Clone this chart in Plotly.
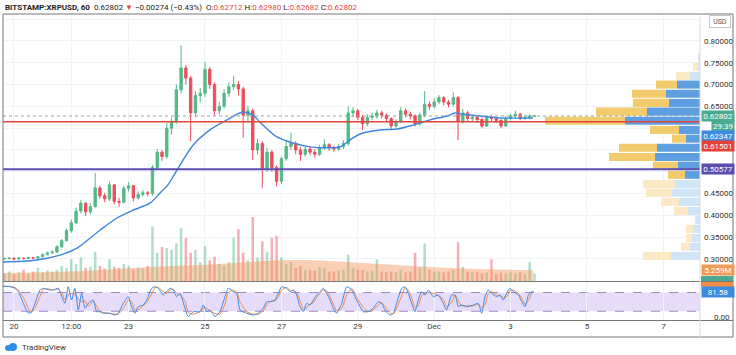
import plotly.graph_objects as go

# ---------------- data ----------------
candle_hours = list(range(-6, 330, 3))  # hours from 20 Nov 00:00, 3h candles

open_ = [0.300,0.301,0.302,0.300,0.302,0.301,0.303,0.302,0.305,0.310,
         0.314,0.316,0.328,0.342,0.365,0.383,0.410,0.428,0.408,0.420,
         0.463,0.445,0.438,0.470,0.432,0.430,0.462,0.468,0.440,0.448,
         0.452,0.450,0.510,0.545,0.535,0.600,0.615,0.688,0.738,0.715,
         0.635,0.675,0.680,0.735,0.700,0.640,0.650,0.680,0.695,0.700,
         0.690,0.630,0.640,0.550,0.565,0.508,0.545,0.510,0.478,0.530,
         0.558,0.565,0.550,0.540,0.552,0.545,0.540,0.555,0.562,0.555,
         0.552,0.558,0.565,0.635,0.640,0.625,0.610,0.625,0.628,0.635,
         0.630,0.622,0.605,0.615,0.640,0.632,0.628,0.610,0.630,0.655,
         0.650,0.660,0.670,0.660,0.655,0.670,0.615,0.635,0.622,0.625,
         0.620,0.605,0.625,0.622,0.618,0.605,0.622,0.628,0.632,0.622,
         0.625,0.62712]
high = [0.303,0.304,0.303,0.304,0.303,0.305,0.304,0.307,0.313,0.317,
        0.320,0.332,0.346,0.370,0.390,0.418,0.436,0.430,0.428,0.497,
        0.468,0.452,0.478,0.472,0.440,0.468,0.476,0.470,0.455,0.458,
        0.456,0.516,0.552,0.550,0.612,0.625,0.700,0.790,0.745,0.720,
        0.685,0.692,0.752,0.740,0.705,0.660,0.690,0.705,0.720,0.708,
        0.695,0.652,0.645,0.575,0.570,0.555,0.550,0.515,0.535,0.570,
        0.590,0.570,0.556,0.560,0.558,0.552,0.562,0.575,0.566,0.560,
        0.564,0.572,0.650,0.648,0.645,0.630,0.632,0.635,0.642,0.640,
        0.634,0.625,0.620,0.648,0.645,0.638,0.632,0.636,0.685,0.662,
        0.668,0.676,0.674,0.665,0.682,0.674,0.645,0.640,0.632,0.630,
        0.624,0.630,0.630,0.626,0.620,0.628,0.633,0.640,0.635,0.630,
        0.632,0.62980]
low = [0.298,0.299,0.298,0.299,0.299,0.300,0.300,0.300,0.304,0.308,
       0.312,0.314,0.325,0.340,0.360,0.380,0.405,0.398,0.402,0.418,
       0.438,0.430,0.433,0.425,0.420,0.428,0.455,0.432,0.436,0.443,
       0.444,0.445,0.505,0.525,0.530,0.585,0.610,0.680,0.700,0.570,
       0.625,0.660,0.672,0.690,0.630,0.632,0.645,0.672,0.688,0.675,
       0.578,0.615,0.527,0.540,0.463,0.500,0.500,0.466,0.472,0.525,
       0.550,0.540,0.525,0.535,0.538,0.532,0.536,0.550,0.548,0.545,
       0.548,0.552,0.560,0.625,0.618,0.596,0.605,0.618,0.622,0.622,
       0.615,0.598,0.600,0.612,0.625,0.620,0.604,0.606,0.625,0.642,
       0.645,0.655,0.652,0.648,0.650,0.573,0.610,0.615,0.615,0.612,
       0.600,0.602,0.616,0.612,0.600,0.603,0.618,0.622,0.618,0.619,
       0.621,0.62682]
close = [0.301,0.302,0.300,0.302,0.301,0.303,0.302,0.305,0.310,0.314,
         0.316,0.328,0.342,0.365,0.383,0.410,0.428,0.408,0.420,0.463,
         0.445,0.438,0.470,0.432,0.430,0.462,0.468,0.440,0.448,0.452,
         0.450,0.510,0.545,0.535,0.600,0.615,0.688,0.738,0.715,0.635,
         0.675,0.680,0.735,0.700,0.640,0.650,0.680,0.695,0.700,0.690,
         0.630,0.640,0.550,0.565,0.508,0.545,0.510,0.478,0.530,0.558,
         0.565,0.550,0.540,0.552,0.545,0.540,0.555,0.562,0.555,0.552,
         0.558,0.565,0.635,0.640,0.625,0.610,0.625,0.628,0.635,0.630,
         0.622,0.605,0.615,0.640,0.632,0.628,0.610,0.630,0.655,0.650,
         0.660,0.670,0.660,0.655,0.670,0.615,0.635,0.622,0.625,0.620,
         0.605,0.625,0.622,0.618,0.605,0.622,0.628,0.632,0.622,0.625,
         0.628,0.62802]
volume_m = [3.6,4.5,3.2,4.1,5.4,3.6,4.5,6.3,4.1,5.0,4.5,
            5.4,7.2,6.3,10.4,8.1,11.3,6.3,6.8,14.0,7.2,
            5.9,10.4,6.8,6.3,8.1,7.2,5.4,6.3,5.9,7.2,
            26.1,13.5,16.2,15.8,14.9,18.0,25.2,20.7,13.5,14.9,
            9.0,16.7,9.9,11.7,8.1,7.2,9.0,20.7,24.8,13.5,
            9.9,30.6,11.3,18.9,14.0,20.7,21.6,11.3,8.1,9.0,
            6.3,7.2,5.4,5.4,5.0,6.8,6.3,4.5,4.5,5.0,
            5.4,12.6,6.3,5.4,5.4,4.5,5.0,10.4,4.5,4.1,
            4.5,4.1,5.4,4.1,4.5,13.5,6.3,18.0,5.4,4.5,
            4.5,4.1,4.5,5.4,18.5,6.8,4.5,4.1,4.5,3.6,
            4.1,10.4,3.6,4.1,3.6,4.1,3.6,4.1,3.2,9.0,3.6]

vol_ma_hours = [-7, 22.6, 54, 85.4, 116.9, 148.3, 173.4, 198.5, 230, 261.4, 292.8, 326]
vol_ma_m = [3.8, 4.3, 5.3, 6.7, 7.6, 9.1, 10.0, 9.6, 8.1, 6.7, 5.7, 5.26]

ma_hours = [-6.9,13.2,28.9,39.6,54,64.7,74.8,85.4,91.7,96.7,
            102.4,112.5,123.1,133.8,143.9,150.2,154.5,165.2,175.3,186,
            196.6,204.8,213,219.3,229.9,240.6,250.7,261.4,272,277.1,
            282.1,292.8,303.5,313.5,326]
ma_price = [0.293,0.297,0.309,0.325,0.366,0.394,0.412,0.428,0.451,0.470,
            0.504,0.561,0.596,0.619,0.637,0.630,0.614,0.580,0.566,0.557,
            0.555,0.557,0.578,0.589,0.596,0.598,0.607,0.619,0.628,0.635,
            0.632,0.628,0.624,0.623,0.62347]

rsi_hours = [-9,-2.5,0.6,2.7,5.9,9,11.1,13.2,16.3,18.4,
             22.6,24.7,27.8,30,32,34.1,36.2,38.3,40.4,42.5,
             44.6,46.7,49.8,51.9,54,56.1,60.3,63.5,65.5,68.7,
             71.8,73.9,76,78.1,81.2,83.4,86.5,88.6,90.7,93.8,
             95.9,98,100.1,102.2,104.3,107.4,109.5,112.6,116.9,118.9,
             121.1,123.1,126.3,129.4,132.6,134.6,137.8,139.9,142,146.2,
             150.4,153.5,156.6,158.8,
             160.8,164,166.1,168.2,171.3,173.4,175.5,177.6,179.7,181.8,
             183.9,186,188.1,190.2,192.3,194.3,196.4,198.5,200.6,202.7,
             205.9,209,212.2,214.2,216.3,219.5,222.6,225.7,228.9,231,
             233.1,236.2,238.3,240.4,243.6,245.6,247.7,249.9,251.9,254,
             256.1,258.2,260.3,263.4,266.6,269.7,271.8,275,277.1,279.2,
             281.3,284.4,288.6,291.7,293.8,295.9,298,300.1,303.3,305.3,
             307.4,309.5,311.6,313.7,316.9,319,321.1,323.2,325.3,326.4]
stoch_k = [100,98.7,93.4,82.7,45.4,13.4,18.7,45.4,88,93.4,
           88,88,93.4,66.7,45.4,98.7,56,93.4,24,77.4,
           29.4,45.4,56,18.7,18.7,13.4,13.4,8,13.4,45.4,
           66.7,34.7,13.4,34.7,40,56,93.4,98.7,93.4,72,
           82.7,93.4,88,66.7,77.4,29.4,2.7,18.7,18.7,40,
           18.7,24,2.7,18.7,66.7,93.4,82.7,77.4,24,13.4,
           8,13.4,29.4,50.7,
           50.7,56,77.4,98.7,93.4,82.7,88,72,34.7,18.7,
           45.4,40,56,72,82.7,93.4,77.4,56,29.4,13.4,
           45.4,98.7,88,66.7,45.4,18.7,18.7,29.4,50.7,45.4,
           24,8,13.4,45.4,93.4,98.7,77.4,45.4,18.7,56,
           82.7,72,88,66.7,72,45.4,24,72,72,34.7,
           40,34.7,40,45.4,13.4,66.7,88,77.4,66.7,72,
           56,77.4,93.4,82.7,72,50.7,34.7,72,82.7,81.58]
stoch_d = [99,99.4,96,88,64,29.4,16,32,66.7,90.7,
           90.7,88,90.7,80,56,72,77.4,74.7,58.7,50.7,
           53.4,37.4,50.7,37.4,18.7,16,13.4,10.7,10.7,29.4,
           56,50.7,24,24,37.4,48,74.7,96,96,82.7,
           77.4,88,90.7,77.4,72,53.4,16,10.7,18.7,29.4,
           29.4,21.4,13.4,10.7,42.7,80,88,80,50.7,18.7,
           10.7,10.7,21.4,40,
           50.7,53.4,66.7,88,96,88,85.4,80,53.4,26.7,
           32,42.7,48,64,77.4,88,85.4,66.7,42.7,21.4,
           29.4,72,93.4,77.4,56,32,18.7,24,40,48,
           34.7,16,10.7,29.4,69.4,96,88,61.4,32,37.4,
           69.4,77.4,80,77.4,69.4,58.7,34.7,48,72,53.4,
           37.4,37.4,37.4,42.7,29.4,40,77.4,82.7,72,69.4,
           64,66.7,85.4,88,77.4,61.4,42.7,53.4,77.4,82.2]

# volume profile (visible range)
vp_price = [0.307,0.328,0.348,0.369,0.390,0.410,0.431,0.452,0.472,0.493,0.514,0.534,
            0.555,0.576,0.596,0.617,0.638,0.658,0.679,0.700,0.720,0.741,0.762]
vp_up = [29,10,8,7,4,12,21,28,25,15,22,45,43,14,21,75,53,31,34,23,10,2,2]
vp_down = [28,9,6,7,1,14,18,26,32,17,25,46,38,14,29,80,51,36,34,21,14,5,0]
vp_value_area = [False,False,False,False,False,False,False,False,False,
                 True,True,True,True,True,True,True,True,True,True,True,
                 False,False,False]

price_ticks = [0.30,0.35,0.40,0.45,0.50,0.55,0.60,0.65,0.70,0.75,0.80,0.85]
price_tick_text = ["0.30000","0.35000","0.40000","0.45000","","","","0.65000",
                   "0.70000","0.75000","0.80000",""]
time_tick_hours = [0,36,72,120,168,216,264,312,360,408]
time_tick_text = ["20","12:00","23","25","27","29","Dec","3","5","7"]

last_price = 0.62802
ma_last = 0.62347
red_level = 0.61501
purple_level = 0.50577

# ---------------- geometry helpers (pixel -> paper) ----------------
W, H = 736, 355
ML, MR, MT, MB = 3, 36, 14, 35
PW, PH = W - ML - MR, H - MT - MB


def px(x):
    return (x - ML) / PW


def py(y):
    return (H - MB - y) / PH


FONT = "Roboto"
GREEN, RED = "#53b987", "#eb4d5c"

fig = go.Figure()

# volume bars
vol_colors = ["rgba(83,185,135,0.45)" if c >= o else "rgba(235,77,92,0.45)"
              for o, c in zip(open_, close)]
fig.add_trace(go.Bar(x=candle_hours, y=volume_m, width=1.6, marker_color=vol_colors,
                     marker_line_width=0, xaxis="x", yaxis="y3", showlegend=False))
fig.add_trace(go.Scatter(x=vol_ma_hours, y=vol_ma_m, mode="lines", line=dict(width=0, shape="spline"),
                         fill="tozeroy", fillcolor="rgba(242,150,90,0.45)",
                         xaxis="x", yaxis="y3", showlegend=False))

# candles
fig.add_trace(go.Candlestick(x=candle_hours, open=open_, high=high, low=low, close=close,
                             increasing=dict(line=dict(color=GREEN, width=1), fillcolor=GREEN),
                             decreasing=dict(line=dict(color=RED, width=1), fillcolor=RED),
                             whiskerwidth=0, xaxis="x", yaxis="y", showlegend=False))
# moving average
fig.add_trace(go.Scatter(x=ma_hours, y=ma_price, mode="lines",
                         line=dict(color="#3d86dc", width=1.4, shape="spline", smoothing=0.8),
                         xaxis="x", yaxis="y", showlegend=False))

# volume profile
up_cols = ["#5e9fe2" if v else "#d0e4f7" for v in vp_value_area]
dn_cols = ["#f2cb6c" if v else "#fbe9c4" for v in vp_value_area]
fig.add_trace(go.Bar(x=vp_up, y=vp_price, base=0, orientation="h", width=0.0185,
                     marker=dict(color=up_cols, line=dict(width=0)),
                     xaxis="x2", yaxis="y", showlegend=False))
fig.add_trace(go.Bar(x=vp_down, y=vp_price, base=vp_up, orientation="h", width=0.0185,
                     marker=dict(color=dn_cols, line=dict(width=0)),
                     xaxis="x2", yaxis="y", showlegend=False))

# stoch rsi
fig.add_trace(go.Scatter(x=rsi_hours, y=stoch_d, mode="lines",
                         line=dict(color="#f08b45", width=1, shape="spline", smoothing=0.5),
                         xaxis="x", yaxis="y2", showlegend=False))
fig.add_trace(go.Scatter(x=rsi_hours, y=stoch_k, mode="lines",
                         line=dict(color="#3d8ae6", width=1, shape="spline", smoothing=0.5),
                         xaxis="x", yaxis="y2", showlegend=False))

main_dom = [py(281), 1.0]
rsi_dom = [0.0, py(282)]
GRID = "#eff2f7"

fig.update_layout(
    width=W, height=H, margin=dict(l=ML, r=MR, t=MT, b=MB),
    paper_bgcolor="white", plot_bgcolor="white",
    barmode="overlay", showlegend=False,
    font=dict(family=FONT, size=8, color="#333333"),
    xaxis=dict(range=[-6.9, 431.0], anchor="y2", domain=[0, 1],
               tickvals=time_tick_hours, ticktext=time_tick_text,
               showgrid=True, gridcolor=GRID, zeroline=False, showline=False,
               ticks="", tickfont=dict(size=8, color="#3a3a3a"),
               rangeslider=dict(visible=False), fixedrange=True),
    xaxis2=dict(overlaying="x", range=[PW, 0], visible=False, anchor="y"),
    yaxis=dict(domain=main_dom, range=[0.2495, 0.8619], side="right",
               tickvals=price_ticks, ticktext=price_tick_text,
               showgrid=True, gridcolor=GRID, zeroline=False, ticks="",
               ticklabelstandoff=3, tickfont=dict(size=8, color="#333333")),
    yaxis3=dict(domain=main_dom, overlaying="y", range=[0, 127.6], visible=False),
    yaxis2=dict(domain=rsi_dom, range=[-8, 113.6], side="right", showticklabels=False,
                showgrid=False, zeroline=False),
)

shapes = []
# stoch rsi band
shapes.append(dict(type="rect", xref="paper", yref="y2", x0=0, x1=1, y0=20, y1=80,
                   fillcolor="rgba(149,107,230,0.24)", line=dict(width=0), layer="below"))
for lv in (20, 80):
    shapes.append(dict(type="line", xref="paper", yref="y2", x0=0, x1=1, y0=lv, y1=lv,
                       line=dict(color="#9d8cc0", width=1, dash="dash"), layer="below"))
# last price dotted line
shapes.append(dict(type="line", xref="paper", yref="y", x0=0, x1=1, y0=last_price, y1=last_price,
                   line=dict(color="#a0a0a0", width=1, dash="dot"), layer="above"))
# horizontal levels
shapes.append(dict(type="line", xref="paper", yref="y", x0=0, x1=1, y0=red_level, y1=red_level,
                   line=dict(color="#e4433a", width=1.5), layer="above"))
shapes.append(dict(type="line", xref="paper", yref="y", x0=0, x1=1, y0=purple_level, y1=purple_level,
                   line=dict(color="#5b4cb0", width=2), layer="above"))
# frame and separators
FR = "#777777"
shapes.append(dict(type="rect", xref="paper", yref="paper", x0=px(3), x1=px(733), y0=py(337), y1=py(14),
                   line=dict(color=FR, width=1), layer="above"))
shapes.append(dict(type="line", xref="paper", yref="paper", x0=px(3), x1=px(733), y0=py(281.5), y1=py(281.5),
                   line=dict(color=FR, width=1), layer="above"))
shapes.append(dict(type="line", xref="paper", yref="paper", x0=px(3), x1=px(733), y0=py(320.5), y1=py(320.5),
                   line=dict(color=FR, width=1), layer="above"))
shapes.append(dict(type="line", xref="paper", yref="paper", x0=px(700), x1=px(700), y0=py(337), y1=py(14),
                   line=dict(color="#dcdcdc", width=1), layer="above"))
# partially hidden axis tags
shapes.append(dict(type="rect", xref="paper", yref="paper", x0=px(701), x1=px(733), y0=py(281), y1=py(276),
                   fillcolor="#4aab93", line=dict(width=0), layer="above"))
shapes.append(dict(type="rect", xref="paper", yref="paper", x0=px(701), x1=px(733), y0=py(287), y1=py(282),
                   fillcolor="#f08b45", line=dict(width=0), layer="above"))
# TradingView logo mark (small cloud)
shapes.append(dict(type="circle", xref="paper", yref="paper", x0=px(5), x1=px(12), y0=py(351), y1=py(345),
                   fillcolor="#2e8ee6", line=dict(width=0), layer="above"))
shapes.append(dict(type="circle", xref="paper", yref="paper", x0=px(9), x1=px(17), y0=py(351), y1=py(343),
                   fillcolor="#2e8ee6", line=dict(width=0), layer="above"))
fig.update_layout(shapes=shapes)

ann = []


def tag(text, ypx, bg, x0=701, w=32):
    ann.append(dict(text=text, xref="paper", yref="paper", x=px(x0), y=py(ypx),
                    xanchor="left", yanchor="middle", showarrow=False, bgcolor=bg,
                    width=w, height=10, borderpad=0, align="center",
                    font=dict(size=8, color="white", family=FONT)))


tag(f"{last_price:.5f}", 116, "#4aab93")
tag("29:39", 126, "#4aab93", x0=711, w=22)
tag(f"{ma_last:.5f}", 136, "#3b8be0")
tag(f"{red_level:.5f}", 146, "#e4433a")
tag(f"{purple_level:.5f}", 169, "#5b4cb0")
tag("5.259M", 270, "#f19a55")
tag(f"{stoch_k[-1]:.2f}", 292, "#3b8be0")

ann.append(dict(text="0.00", xref="paper", yref="paper", x=px(712), y=py(317), xanchor="left",
                yanchor="middle", showarrow=False, font=dict(size=8, color="#333333")))
ann.append(dict(text="USD", xref="paper", yref="paper", x=px(709), y=py(21), xanchor="left",
                yanchor="middle", showarrow=False, bgcolor="white", bordercolor="#c8c8c8",
                borderwidth=1, borderpad=1, width=18, height=9,
                font=dict(size=7, color="#555555")))

R = "#e0483d"
header = ("<b>BITSTAMP:XRPUSD, 60</b>  0.62802 <span style='color:%s'>▼</span> −0.00274 (−0.43%%)  "
          "O:<span style='color:%s'>0.62712</span> H:<span style='color:%s'>0.62980</span> "
          "L:<span style='color:%s'>0.62682</span> C:<span style='color:%s'>0.62802</span>") % (R, R, R, R, R)
ann.append(dict(text=header, xref="paper", yref="paper", x=px(3), y=py(7), xanchor="left",
                yanchor="middle", showarrow=False, font=dict(size=8, color="#222222")))
ann.append(dict(text="TradingView", xref="paper", yref="paper", x=px(20), y=py(347), xanchor="left",
                yanchor="middle", showarrow=False, font=dict(size=8, color="#333333")))
fig.update_layout(annotations=ann)

fig.write_html("out.html", config={"displayModeBar": False},
               post_script="document.body.style.margin='0px';")
